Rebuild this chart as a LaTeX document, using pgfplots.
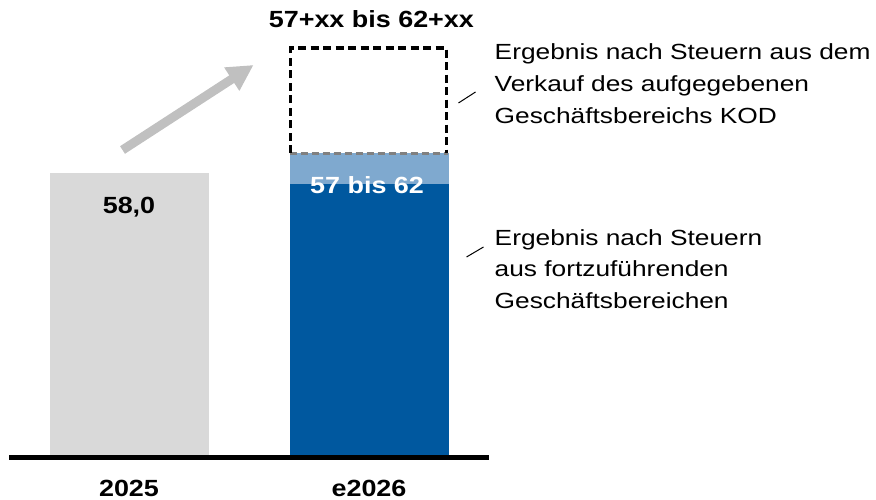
\documentclass[border=0pt]{standalone}
\usepackage{pgfplots}
\pgfplotsset{compat=1.18}
\usetikzlibrary{arrows.meta}
\usepackage{fontspec}
\setmainfont{Liberation Sans}[FakeStretch=1.15]
\newfontfamily\annofont{Liberation Sans}[FakeStretch=1.2]
\definecolor{barGray}{HTML}{D9D9D9}
\definecolor{darkBlue}{HTML}{00589F}
\definecolor{lightBlue}{HTML}{7FA9CF}
\definecolor{arrowGray}{HTML}{C0C0C0}
\definecolor{sepGray}{HTML}{808080}
\newcommand{\lbl}{\fontsize{23.5}{27}\selectfont\bfseries}
\newcommand{\anno}{\annofont\fontsize{22}{26}\selectfont}

\begin{document}
\begin{tikzpicture}
\useasboundingbox (0,0) rectangle (876bp,500bp);
\begin{axis}[
  at={(9bp,45bp)}, anchor=south west,
  scale only axis, width=480bp, height=455bp,
  xmin=-0.5, xmax=1.5, ymin=0, ymax=93.58,
  enlargelimits=false, clip=false,
  axis line style={draw=none},
  ytick=\empty,
  xtick={0,1}, xticklabels={2025,e2026},
  major tick length=0pt,
  xticklabel style={font=\lbl, anchor=base, yshift=-41.7bp},
  ybar, bar shift=0pt, bar width=0.6625,
]
% Balken
\addplot[fill=barGray, draw=none] coordinates {(0,58)};
\addplot[fill=lightBlue, draw=none] coordinates {(1,62.1)};
\addplot[fill=darkBlue, draw=none] coordinates {(1,55.7)};
% Trennlinie und gestrichelter Rahmen (KOD)
\addplot[sharp plot, no marks, draw=sepGray, line width=3bp, dash pattern=on 7bp off 4bp]
  coordinates {(0.669,62.1)(1.331,62.1)};
\addplot[sharp plot, no marks, draw=black, line width=3.2bp, dash pattern=on 8bp off 4.5bp]
  coordinates {(0.673,62.1)(0.673,83.7)(1.323,83.7)(1.323,62.1)};
% Grundlinie
\draw[line width=5bp] ([yshift=-2.5bp]axis cs:-0.5,0) -- ([yshift=-2.5bp]axis cs:1.5,0);
% Pfeil
\draw[arrowGray, line width=9bp, -{Triangle[width=26bp,length=26bp]}]
  (axis cs:-0.027,62.73) -- (axis cs:0.519,80.21);
% Werte
\node[font=\lbl, anchor=base] at (axis cs:0,49.6) {58,0};
\node[font=\lbl, text=white, anchor=base] at (axis cs:0.992,53.8) {57 bis 62};
\node[font=\lbl, anchor=base] at (axis cs:1.01,87.97) {57+xx bis 62+xx};
% Beschriftungen rechts
\draw[line width=1bp] (axis cs:1.3729,72.40) -- (axis cs:1.4438,74.66);
\draw[line width=1bp] (axis cs:1.4063,40.72) -- (axis cs:1.4771,42.78);
\node[font=\anno, anchor=base west, inner sep=0pt] at (axis cs:1.523,81.24) {Ergebnis nach Steuern aus dem};
\node[font=\anno, anchor=base west, inner sep=0pt] at (axis cs:1.523,74.76) {Verkauf des aufgegebenen};
\node[font=\anno, anchor=base west, inner sep=0pt] at (axis cs:1.523,68.28) {Geschäftsbereichs KOD};
\node[font=\anno, anchor=base west, inner sep=0pt] at (axis cs:1.523,43.19) {Ergebnis nach Steuern};
\node[font=\anno, anchor=base west, inner sep=0pt] at (axis cs:1.523,36.71) {aus fortzuführenden};
\node[font=\anno, anchor=base west, inner sep=0pt] at (axis cs:1.523,30.23) {Geschäftsbereichen};
\end{axis}
\end{tikzpicture}
\end{document}
